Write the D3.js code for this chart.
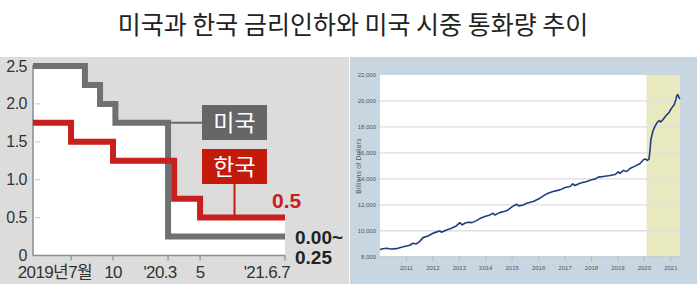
<!DOCTYPE html>
<html><head><meta charset="utf-8">
<script src="https://cdn.jsdelivr.net/npm/d3@7"></script>
<style>
html,body{margin:0;padding:0;background:#fff;}
svg{display:block;}
</style></head>
<body>
<svg id="c" width="700" height="300"></svg>
<script>
// ---------- DATA ----------
const titleText = "미국과 한국 금리인하와 미국 시중 통화량 추이";

// Left chart: policy rates (%), step changes
const usDates  = ["2019-01-01","2019-07-31","2019-09-18","2019-10-30","2020-03-03","2021-07-01"];
const usRates  = [2.5, 2.25, 2.0, 1.75, 0.25, 0.25];
const krDates  = ["2019-01-01","2019-07-18","2019-10-16","2020-03-16","2020-05-28","2021-07-01"];
const krRates  = [1.75, 1.5, 1.25, 0.75, 0.5, 0.5];
const rateYTicks = [0, 0.5, 1.0, 1.5, 2.0, 2.5];
const rateYLabels = ["0","0.5","1.0","1.5","2.0","2.5"];
const rateXTickDates = ["2019-07-18","2019-10-16","2020-03-03","2020-05-28","2021-07-01"];
const rateXTickLabels = ["2019년7월","10","'20.3","5","'21.6.7"];
// schematic (non-linear) timeline of the original: date stops and their share of the axis
const timelineStops = ["2019-01-01","2019-07-18","2019-07-31","2019-09-18","2019-10-16","2019-10-30","2020-03-03","2020-03-16","2020-05-28","2021-07-01"];
const timelineShare = [0, 0.151, 0.206, 0.266, 0.3175, 0.327, 0.536, 0.56, 0.663, 1];
const usLabel = "미국", krLabel = "한국";
const krEndLabel = "0.5";
const usEndLabel = ["0.00~","0.25"];

// Right chart: US M2 money stock (billions of dollars)
const m2Dates = ["2010-01-04","2010-01-22","2010-03-29","2010-06-07","2010-08-15","2010-10-23",
"2011-01-03","2011-02-17","2011-04-01","2011-05-19","2011-07-01","2011-08-18","2011-10-26",
"2012-01-02","2012-01-27","2012-04-05","2012-04-30","2012-07-09","2012-09-13","2012-11-21",
"2013-01-08","2013-02-10","2013-03-18","2013-05-01","2013-06-25","2013-08-26","2013-10-12","2013-12-20",
"2014-02-28","2014-04-13","2014-05-05","2014-07-13","2014-09-20","2014-11-06",
"2015-01-02","2015-03-05","2015-04-02","2015-06-03","2015-07-20","2015-10-20",
"2016-01-20","2016-03-29","2016-05-12","2016-07-19","2016-10-22",
"2017-01-02","2017-03-11","2017-04-17","2017-05-19","2017-07-24","2017-10-27",
"2018-01-02","2018-02-17","2018-04-05","2018-06-14","2018-09-13","2018-11-21",
"2019-01-08","2019-01-30","2019-03-15","2019-05-01","2019-06-18","2019-08-26","2019-11-03","2019-12-20",
"2020-01-15","2020-02-10","2020-03-06","2020-03-20","2020-04-01","2020-04-27","2020-05-26","2020-06-28",
"2020-07-27","2020-08-14","2020-09-12","2020-10-12","2020-11-06","2020-12-09",
"2021-01-04","2021-01-30","2021-02-17","2021-03-11","2021-03-25","2021-04-09","2021-04-27","2021-05-08"];
const m2Values = [8520,8595,8650,8595,8620,8725,
8825,8880,9035,8980,9160,9470,9600,
9805,9855,9985,9885,10060,10195,10370,
10625,10450,10580,10655,10625,10780,10935,11090,
11220,11350,11220,11395,11505,11605,
11860,12045,11915,11990,12120,12247,
12510,12765,12895,13020,13150,
13330,13405,13615,13485,13665,13790,
13925,13975,14130,14180,14255,14330,
14540,14420,14640,14565,14790,14980,15180,15467,
15530,15413,15520,16240,17010,17650,18040,18350,
18480,18380,18555,18765,18940,19120,
19380,19585,19715,20100,20410,20485,20230,20155];
const m2YTicks = [8000,10000,12000,14000,16000,18000,20000,22000];
const m2XTickYears = [2011,2012,2013,2014,2015,2016,2017,2018,2019,2020,2021];
const m2DomainStart = "2010-01-01", m2DomainEnd = "2021-05-08";
const recessionStart = "2020-02-01";
const m2AxisTitle = "Billions of Dollars";

// ---------- DRAW ----------
const P = d3.timeParse("%Y-%m-%d");
const svg = d3.select("#c");
const numFont = "'Liberation Sans Narrow','Liberation Sans','Noto Sans CJK KR',sans-serif";

svg.append("text").attr("x", 353).attr("y", 34).attr("text-anchor","middle")
  .attr("font-family","'Noto Sans CJK KR',sans-serif").attr("font-size",25)
  .attr("fill","#222").text(titleText);

// ===== Left panel =====
const L = svg.append("g");
L.append("rect").attr("x",0).attr("y",57).attr("width",349).attr("height",227).attr("fill","#dcdcdc");

const lx0 = 33, lx1 = 285;
const xL = d3.scaleTime().domain(timelineStops.map(P)).range(timelineShare.map(s => lx0 + s*(lx1-lx0)));
const yL = d3.scaleLinear().domain([0,2.5]).range([255.5,66]);

const us = usDates.map((d,i)=>({date:P(d), v:usRates[i]}));
const kr = krDates.map((d,i)=>({date:P(d), v:krRates[i]}));
const stepVal = (arr, dt) => { let v = arr[0].v; arr.forEach(p => { if (p.date <= dt) v = p.v; }); return v; };
const allDates = Array.from(new Set([...usDates,...krDates])).sort().map(P);
const env = allDates.map(dt => ({date:dt, v:Math.max(stepVal(us,dt), stepVal(kr,dt))}));

L.append("path").datum(env)
  .attr("d", d3.area().curve(d3.curveStepAfter).x(d=>xL(d.date)).y0(yL(0)).y1(d=>yL(d.v)))
  .attr("fill","#fff");

// y ticks (faint, inside)
L.selectAll(".yt").data(rateYTicks.filter(t=>t>0 && t<2.5)).join("line")
  .attr("x1",lx0+2).attr("x2",lx0+7).attr("y1",d=>yL(d)).attr("y2",d=>yL(d))
  .attr("stroke","#cfcfcf").attr("stroke-width",1.2);
// axes
L.append("line").attr("x1",lx0).attr("x2",lx0).attr("y1",yL(2.5)-1).attr("y2",yL(0))
  .attr("stroke","#8c8c8c").attr("stroke-width",1.5);
L.append("line").attr("x1",lx0).attr("x2",lx1).attr("y1",yL(0)).attr("y2",yL(0))
  .attr("stroke","#8c8c8c").attr("stroke-width",1.5);
L.selectAll(".xt").data(rateXTickDates).join("line")
  .attr("x1",d=>xL(P(d))).attr("x2",d=>xL(P(d))).attr("y1",yL(0)).attr("y2",yL(0)+5)
  .attr("stroke","#8c8c8c").attr("stroke-width",1.2);

L.selectAll(".yl").data(rateYTicks).join("text")
  .attr("x",27).attr("y",d=>yL(d)+5.5).attr("text-anchor","end")
  .attr("font-family",numFont).attr("font-size",16).attr("letter-spacing",-0.5)
  .attr("fill","#333").text((d,i)=>rateYLabels[i]);

const xLabelShift = [21, 0, -8, 0, 5];
const xLabelAnchor = ["end","middle","middle","middle","end"];
L.selectAll(".xl").data(rateXTickDates).join("text")
  .attr("x",(d,i)=>xL(P(d))+xLabelShift[i]).attr("y",278)
  .attr("text-anchor",(d,i)=>xLabelAnchor[i])
  .attr("font-family",numFont).attr("font-size",17).attr("letter-spacing",-0.6)
  .attr("fill","#333").text((d,i)=>rateXTickLabels[i]);

// US connector and label
const usDrop = xL(us[4].date);
const boxX = 202, boxW = 65, boxH = 35;
L.append("line").attr("x1",usDrop).attr("x2",boxX).attr("y1",yL(1.75)).attr("y2",yL(1.75))
  .attr("stroke","#6a6a6a").attr("stroke-width",2);
const lineGen = d3.line().curve(d3.curveStepAfter).x(d=>xL(d.date)).y(d=>yL(d.v));
L.append("path").datum(us).attr("d",lineGen).attr("fill","none")
  .attr("stroke","#6f7072").attr("stroke-width",6);
// KR connector
const krBoxY = 149;
L.append("line").attr("x1",boxX+boxW/2).attr("x2",boxX+boxW/2).attr("y1",krBoxY+boxH-1).attr("y2",yL(0.5))
  .attr("stroke","#c41a0e").attr("stroke-width",2);
L.append("path").datum(kr).attr("d",lineGen).attr("fill","none")
  .attr("stroke","#c8201c").attr("stroke-width",6);

const usBoxY = 105;
L.append("rect").attr("x",boxX).attr("y",usBoxY).attr("width",boxW).attr("height",boxH).attr("fill","#666667");
L.append("text").attr("x",boxX+boxW/2).attr("y",usBoxY+26).attr("text-anchor","middle")
  .attr("font-family","'Noto Sans CJK KR',sans-serif").attr("font-size",23).attr("fill","#fff").text(usLabel);
L.append("rect").attr("x",boxX).attr("y",krBoxY).attr("width",boxW).attr("height",boxH).attr("fill","#c41a0b");
L.append("text").attr("x",boxX+boxW/2).attr("y",krBoxY+26).attr("text-anchor","middle")
  .attr("font-family","'Noto Sans CJK KR',sans-serif").attr("font-size",23).attr("fill","#fff").text(krLabel);

L.append("text").attr("x",272).attr("y",yL(0.5)-10).attr("font-family",numFont).attr("font-weight","bold")
  .attr("font-size",21).attr("fill","#c8201c").text(krEndLabel);
L.selectAll(".ue").data(usEndLabel).join("text")
  .attr("x",295).attr("y",(d,i)=>244+i*19.5).attr("font-family",numFont).attr("font-weight","bold")
  .attr("font-size",19).attr("fill","#222").text(d=>d);

// ===== Right panel =====
const R = svg.append("g");
R.append("rect").attr("x",350).attr("y",57).attr("width",347).attr("height",227).attr("fill","#c8d6e2");
const rx0 = 380, rx1 = 680;
const xR = d3.scaleTime().domain([P(m2DomainStart),P(m2DomainEnd)]).range([rx0,rx1]);
const yR = d3.scaleLinear().domain([8000,22000]).range([256.7,75]);
R.append("rect").attr("x",rx0).attr("y",yR(22000)).attr("width",rx1-rx0).attr("height",yR(8000)-yR(22000)).attr("fill","#fff");
R.append("rect").attr("x",xR(P(recessionStart))).attr("y",yR(22000))
  .attr("width",rx1-xR(P(recessionStart))).attr("height",yR(8000)-yR(22000)).attr("fill","#e9e9c0");
R.selectAll(".g").data(m2YTicks.filter(t=>t>8000 && t<22000)).join("line")
  .attr("x1",rx0).attr("x2",rx1).attr("y1",d=>yR(d)).attr("y2",d=>yR(d))
  .attr("stroke","#dedede").attr("stroke-width",1.3);
R.append("line").attr("x1",rx0).attr("x2",rx1).attr("y1",yR(8000)).attr("y2",yR(8000))
  .attr("stroke","#bfc8d0").attr("stroke-width",1);
R.selectAll(".xt").data(m2XTickYears).join("line")
  .attr("x1",d=>xR(new Date(d,0,1))).attr("x2",d=>xR(new Date(d,0,1)))
  .attr("y1",yR(8000)).attr("y2",yR(8000)+4).attr("stroke","#aab6c2").attr("stroke-width",1);
R.selectAll(".yl").data(m2YTicks).join("text")
  .attr("x",376).attr("y",d=>yR(d)+2).attr("text-anchor","end")
  .attr("font-family",numFont).attr("font-size",6).attr("fill","#555")
  .text(d=>d3.format(",")(d));
R.selectAll(".xl").data(m2XTickYears).join("text")
  .attr("x",d=>xR(new Date(d,0,1))).attr("y",270).attr("text-anchor","middle")
  .attr("font-family",numFont).attr("font-size",6).attr("fill","#555").text(d=>d);
R.append("text").attr("transform","translate(361,166) rotate(-90)").attr("text-anchor","middle")
  .attr("font-family","'Liberation Sans',sans-serif").attr("font-size",6.5).attr("fill","#555")
  .attr("letter-spacing",0.3).text(m2AxisTitle);
const m2 = m2Dates.map((d,i)=>({date:P(d), v:m2Values[i]}));
R.append("path").datum(m2).attr("d", d3.line().x(d=>xR(d.date)).y(d=>yR(d.v)))
  .attr("fill","none").attr("stroke","#1e3f7e").attr("stroke-width",1.6).attr("stroke-linejoin","round");
</script>
</body></html>
